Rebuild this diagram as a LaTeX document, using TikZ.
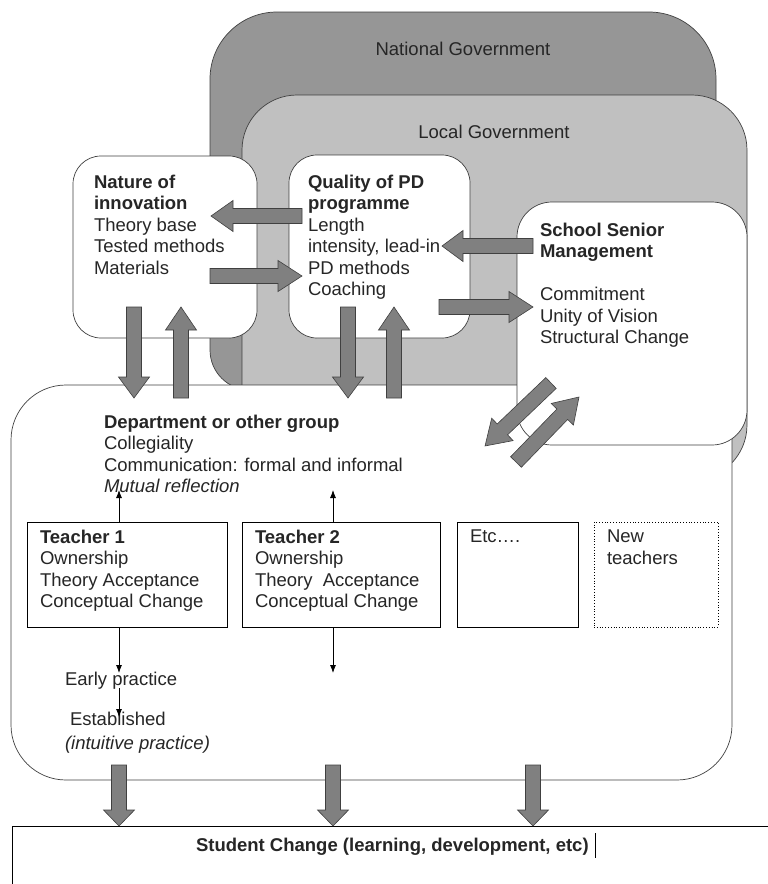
\documentclass[tikz,border=0pt]{standalone}
\usepackage{fontspec}
\setmainfont{Liberation Sans}
\usetikzlibrary{arrows.meta,calc}
\newcommand\fs{\fontsize{18.5}{21.5}\selectfont}
\definecolor{natgray}{RGB}{150,150,150}
\definecolor{locgray}{RGB}{192,192,192}
\definecolor{arrgray}{RGB}{128,128,128}
\definecolor{edgegray}{RGB}{64,64,64}
\tikzset{
  every node/.style={inner sep=0pt, outer sep=0pt},
  txt/.style={anchor=north west, align=left, font=\fs, text=black!85},
  ctxt/.style={anchor=center, font=\fs, text=black!85},
  rbox/.style={draw=edgegray, line width=0.7pt, fill=white},
  tbox/.style={draw=black, line width=0.9pt, fill=white},
  blockarr/.style={fill=arrgray, draw=edgegray, line width=0.6pt},
  thinarr/.style={draw=black, line width=0.8pt, -{Latex[length=8pt,width=6pt]}},
}
\newcommand\blockarrow[3]{%
  \draw[blockarr] let \p1=(#1), \p2=(#2),
    \n1={atan2(\y2-\y1,\x2-\x1)}, \n2={veclen(\x2-\x1,\y2-\y1)} in
    [shift={(\p1)}, rotate=\n1]
    (0,-7.5) -- ({\n2-#3},-7.5) -- ({\n2-#3},-15.5) -- (\n2,0)
    -- ({\n2-#3},15.5) -- ({\n2-#3},7.5) -- (0,7.5) -- cycle;}
\begin{document}
\begin{tikzpicture}[x=1pt,y=-1pt]
\useasboundingbox (0,0) rectangle (768,884);
% government layers
\draw[fill=natgray, draw=edgegray, line width=0.7pt]
  (210,200) [rounded corners=67] -- (210,12) -- (716,12) -- (716,200)
  [rounded corners=40] -- (716,390) -- (210,390) -- cycle;
\node[ctxt] (natl) at (463,49) {National Government};
\draw[fill=locgray, draw=edgegray, line width=0.7pt, rounded corners=55]
  (242,95) rectangle (747,480);
\node[ctxt] (locl) at (494,132) {Local Government};
% upper boxes
\node[rbox, rounded corners=28, minimum width=184, minimum height=182] (nature) at (165,247) {};
\node[rbox, rounded corners=28, minimum width=181, minimum height=183] (quality) at (379.5,246.5) {};
% department
\node[rbox, rounded corners=55, minimum width=721, minimum height=395] (dept) at (371.5,582.5) {};
% school senior management
\node[rbox, rounded corners=35, minimum width=230, minimum height=243] (ssm) at (632,323.5) {};
% student change
\draw[draw=black, line width=0.9pt, fill=white] (12,900) -- (12,826) -- (790,826);
\node[draw=none] (student) at (400,855) {};
% teacher boxes
\node[tbox, minimum width=200, minimum height=105] (t1) at (127,574.5) {};
\node[tbox, minimum width=198, minimum height=105] (t2) at (341,574.5) {};
\node[tbox, minimum width=121, minimum height=105] (etc) at (517.5,574.5) {};
\node[draw=black, line width=0.8pt, dotted, fill=white, minimum width=124, minimum height=105] (newt) at (656,574.5) {};
% texts
\node[txt] (naturetxt) at (94,175) {\textbf{Nature of}\\\textbf{innovation}\\Theory base\\Tested methods\\Materials};
\node[txt] (qualitytxt) at (308,175) {\textbf{Quality of PD}\\\textbf{programme}\\Length\\intensity, lead-in\\PD methods\\Coaching};
\node[txt] (ssmtxt) at (540,223) {\textbf{School Senior}\\\textbf{Management}\\[21.5pt]Commitment\\Unity of Vision\\Structural Change};
\node[txt] (depttxt) at (104,415) {\textbf{Department or other group}\\Collegiality\\Communication: formal and informal\\\textit{Mutual reflection}};
\node[txt] (t1txt) at (40,530) {\textbf{Teacher 1}\\Ownership\\Theory Acceptance\\Conceptual Change};
\node[txt] (t2txt) at (255,530) {\textbf{Teacher 2}\\Ownership\\Theory\ \ Acceptance\\Conceptual Change};
\node[txt] (etctxt) at (470,530) {Etc\ldots.};
\node[txt] (newtxt) at (607,530) {New\\teachers};
\node[txt] (early) at (65,672) {Early practice};
\node[txt] (estab) at (70,712) {Established};
\node[txt] (intuit) at (65,736) {\textit{(intuitive practice)}};
\node[txt] (studtxt) at (196,838) {\textbf{Student Change (learning, development, etc)}};
\draw[black, line width=0.7pt] (595,833) -- (595,858);
% thin arrows
\coordinate (t1top) at (119,522); \coordinate (t1up) at (119,490);
\coordinate (t2top) at (333,522); \coordinate (t2up) at (333,490);
\coordinate (t1bot) at (119,627); \coordinate (t1dn) at (119,673);
\coordinate (earlybot) at (119,688); \coordinate (estabtop) at (119,717);
\coordinate (t2bot) at (333,627); \coordinate (t2dn) at (333,673);
\draw[thinarr] (t1top) -- (t1up);
\draw[thinarr] (t2top) -- (t2up);
\draw[thinarr] (t1bot) -- (t1dn);
\draw[thinarr] (earlybot) -- (estabtop);
\draw[thinarr] (t2bot) -- (t2dn);
% block arrow end points
\coordinate (nd1) at (134,307); \coordinate (nd2) at (134,398);
\coordinate (nu1) at (181,398); \coordinate (nu2) at (181,307);
\coordinate (qd1) at (348,307); \coordinate (qd2) at (348,398);
\coordinate (qu1) at (394,398); \coordinate (qu2) at (394,307);
\coordinate (qn1) at (302,216); \coordinate (qn2) at (211,216);
\coordinate (nq1) at (210,276); \coordinate (nq2) at (302,276);
\coordinate (sq1) at (533,246); \coordinate (sq2) at (442,246);
\coordinate (qs1) at (439,307); \coordinate (qs2) at (533,307);
\coordinate (da1) at (551,383); \coordinate (da2) at (485,446);
\coordinate (db1) at (516,462); \coordinate (db2) at (579,397);
\coordinate (b11) at (119,765); \coordinate (b12) at (119,826);
\coordinate (b21) at (333,765); \coordinate (b22) at (333,826);
\coordinate (b31) at (533,765); \coordinate (b32) at (533,826);
\blockarrow{nd1}{nd2}{21}
\blockarrow{nu1}{nu2}{23}
\blockarrow{qd1}{qd2}{21}
\blockarrow{qu1}{qu2}{23}
\blockarrow{qn1}{qn2}{22}
\blockarrow{nq1}{nq2}{24}
\blockarrow{sq1}{sq2}{21}
\blockarrow{qs1}{qs2}{24}
\blockarrow{da1}{da2}{24}
\blockarrow{db1}{db2}{24}
\blockarrow{b11}{b12}{16}
\blockarrow{b21}{b22}{16}
\blockarrow{b31}{b32}{16}
\end{tikzpicture}
\end{document}
